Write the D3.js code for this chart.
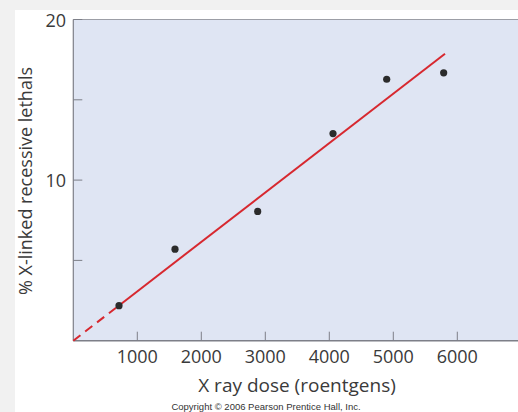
<!DOCTYPE html>
<html>
<head>
<meta charset="utf-8">
<script src="https://d3js.org/d3.v7.min.js"></script>
<style>
  body { margin: 0; background: #f1f1f1; }
  svg { display: block; }
</style>
</head>
<body>
<svg id="chart"></svg>
<script>
// measured points, dose in roentgens vs % lethals
var doses = [714, 1589, 2881, 4058, 4897, 5787];
var lethals = [2.18, 5.70, 8.05, 12.9, 16.28, 16.68];
// fitted line: dashed part then solid part
var fitDashX = [0, 700];
var fitDashY = [0, 2.15];
var fitSolidX = [700, 5808];
var fitSolidY = [2.15, 17.87];
var xTicks = [1000, 2000, 3000, 4000, 5000, 6000];
var yTicks = [5, 10, 15, 20];
var yLabelled = [10, 20];

var W = 518, H = 412;
var svg = d3.select("#chart").attr("width", W).attr("height", H);

// white card
svg.append("rect").attr("x", 15).attr("y", 10).attr("width", W - 15).attr("height", H - 10)
  .attr("fill", "#ffffff");

var plotL = 73.3, plotT = 19.5, plotB = 340.7, plotR = W;
var x = d3.scaleLinear().domain([0, 1000]).range([plotL, plotL + 64]);
var y = d3.scaleLinear().domain([0, 20]).range([plotB, plotT]);

svg.append("rect").attr("x", plotL).attr("y", plotT)
  .attr("width", plotR - plotL).attr("height", plotB - plotT)
  .attr("fill", "#dfe5f3");

var axisCol = "#7d7f88";
var font = "'Open Sans', 'Noto Sans', sans-serif";

// axes frame
svg.append("line").attr("x1", plotL).attr("x2", plotR).attr("y1", plotT).attr("y2", plotT)
  .attr("stroke", "#9c9ea6").attr("stroke-width", 1.2);
svg.append("line").attr("x1", plotL).attr("x2", plotL).attr("y1", plotT).attr("y2", plotB)
  .attr("stroke", axisCol).attr("stroke-width", 1.2);
svg.append("line").attr("x1", plotL).attr("x2", plotR).attr("y1", plotB).attr("y2", plotB)
  .attr("stroke", axisCol).attr("stroke-width", 1.5);

// x ticks (inward)
svg.selectAll(".xt").data(xTicks).enter().append("line")
  .attr("x1", d => x(d)).attr("x2", d => x(d))
  .attr("y1", plotB).attr("y2", plotB - 9)
  .attr("stroke", axisCol).attr("stroke-width", 1);
svg.selectAll(".xl").data(xTicks).enter().append("text")
  .attr("x", d => x(d)).attr("y", 363)
  .attr("text-anchor", "middle")
  .attr("font-family", font).attr("font-size", 18).attr("fill", "#3a3a3a")
  .text(d => d);

// y ticks (inward)
svg.selectAll(".yt").data(yTicks).enter().append("line")
  .attr("x1", plotL).attr("x2", plotL + 9)
  .attr("y1", d => y(d)).attr("y2", d => y(d))
  .attr("stroke", axisCol).attr("stroke-width", 1);
svg.selectAll(".yl").data(yLabelled).enter().append("text")
  .attr("x", 66).attr("y", d => y(d) + 7)
  .attr("text-anchor", "end")
  .attr("font-family", font).attr("font-size", 18).attr("fill", "#3a3a3a")
  .text(d => d);

// fit line
var red = "#d7282f";
svg.append("line")
  .attr("x1", x(fitDashX[0])).attr("y1", y(fitDashY[0]))
  .attr("x2", x(fitDashX[1])).attr("y2", y(fitDashY[1]))
  .attr("stroke", red).attr("stroke-width", 2).attr("stroke-dasharray", "9,6");
svg.append("line")
  .attr("x1", x(fitSolidX[0])).attr("y1", y(fitSolidY[0]))
  .attr("x2", x(fitSolidX[1])).attr("y2", y(fitSolidY[1]))
  .attr("stroke", red).attr("stroke-width", 2);

// points
svg.selectAll(".pt").data(doses).enter().append("circle")
  .attr("cx", d => x(d)).attr("cy", (d, i) => y(lethals[i]))
  .attr("r", 3.6).attr("fill", "#2b2b2b");

// titles
svg.append("text").attr("x", 297).attr("y", 392)
  .attr("text-anchor", "middle")
  .attr("font-family", font).attr("font-size", 19).attr("fill", "#3a3a3a")
  .text("X ray dose (roentgens)");
svg.append("text")
  .attr("transform", "translate(32,181) rotate(-90)")
  .attr("text-anchor", "middle")
  .attr("font-family", font).attr("font-size", 18).attr("fill", "#3a3a3a")
  .text("% X-linked recessive lethals");
svg.append("text").attr("x", 266).attr("y", 410)
  .attr("text-anchor", "middle")
  .attr("font-family", "'Liberation Sans', Arial, sans-serif").attr("font-size", 9.5).attr("fill", "#333")
  .text("Copyright \u00a9 2006 Pearson Prentice Hall, Inc.");
</script>
</body>
</html>
